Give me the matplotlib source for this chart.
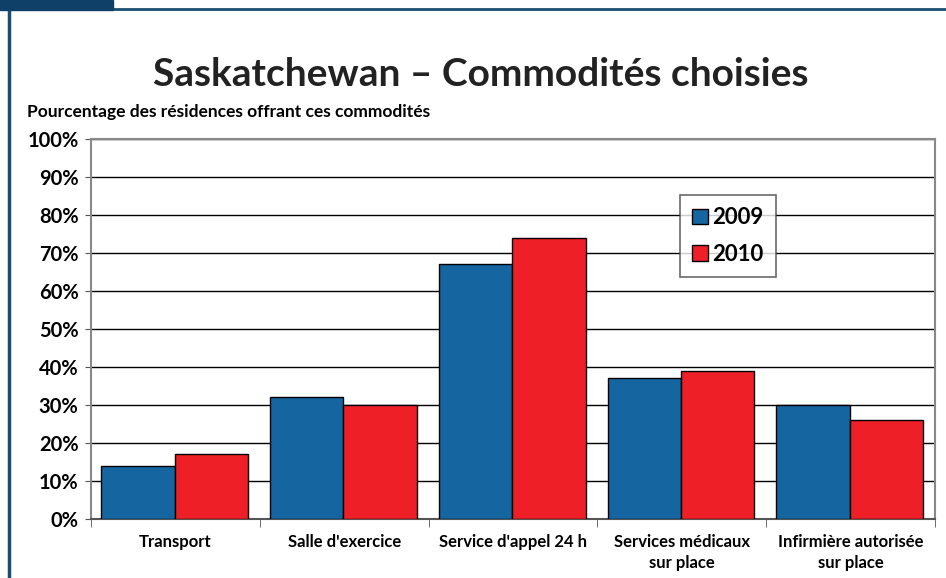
import matplotlib.pyplot as plt
import numpy as np
from matplotlib.patches import Rectangle
from matplotlib.lines import Line2D

# data
categories = ["Transport", "Salle d'exercice", "Service d'appel 24 h",
              "Services médicaux\nsur place", "Infirmière autorisée\nsur place"]
vals_2009 = [14, 32, 67, 37, 30]
vals_2010 = [17, 30, 74, 39, 26]
years = ["2009", "2010"]

plt.rcParams['font.family'] = ['Lato', 'DejaVu Sans']
WT = 'bold'

fig = plt.figure(figsize=(9.46, 5.78), dpi=100)
ax = fig.add_axes([91/946, 1-519/578, 844/946, 380/578])

x = np.arange(len(categories))
w = 0.435
ax.bar(x - w/2 - 0.005, vals_2009, w, color='#1565a1', edgecolor='black', linewidth=1, label=years[0], zorder=3)
ax.bar(x + w/2 - 0.005, vals_2010, w, color='#ee1f26', edgecolor='black', linewidth=1, label=years[1], zorder=3)

ax.set_xlim(-0.5, len(categories) - 0.5)
ax.set_ylim(0, 100)
ax.set_yticks(range(0, 101, 10))
ax.set_yticklabels([f"{v}%" for v in range(0, 101, 10)], fontsize=14.5, fontweight=WT)
for v in range(10, 101, 10):
    ax.axhline(v, color='black', linewidth=1, zorder=1)

ax.set_xticks(x)
ax.set_xticklabels(categories, fontsize=12, fontweight=WT, linespacing=1.4)
ax.tick_params(axis='x', length=0, pad=11)
ax.set_xticks(np.arange(-0.5, len(categories)), minor=True)
ax.tick_params(axis='x', which='minor', length=6, color='#555555')
ax.tick_params(axis='y', length=4, color='#555555', pad=5)

for s in ['left', 'right', 'top']:
    ax.spines[s].set_color('#888888')
    ax.spines[s].set_linewidth(1.5)
ax.spines['bottom'].set_color('#555555')
ax.spines['bottom'].set_linewidth(1.5)

leg = ax.legend(loc='upper left', bbox_to_anchor=((680-91)/844, (519-195)/380),
                prop={'weight': WT, 'size': 16}, frameon=True, fancybox=False,
                handlelength=0.7, handleheight=0.7, handletextpad=0.2,
                borderpad=0.55, labelspacing=0.7, borderaxespad=0)
leg.get_frame().set_edgecolor('#444444')
leg.get_frame().set_linewidth(1.2)
leg.set_zorder(5)

fig.text(481/946, 1-75/578, "Saskatchewan – Commodités choisies", ha='center', va='center',
         fontsize=28, fontweight=WT, color='#222222')
fig.text(27/946, 1-112/578, "Pourcentage des résidences offrant ces commodités",
         ha='left', va='center', fontsize=12.5, fontweight=WT)

# page border
fig.add_artist(Rectangle((0, 1-10/578), 113/946, 10/578, transform=fig.transFigure,
                         color='#0f4168', zorder=10))
fig.add_artist(Line2D([9/946, 9/946], [0, 1-9/578], transform=fig.transFigure,
                      color='#1a4d72', linewidth=2.5))
fig.add_artist(Line2D([9/946, 1], [1-9/578, 1-9/578], transform=fig.transFigure,
                      color='#1a4d72', linewidth=2))

fig.savefig("out.png", dpi=100)
